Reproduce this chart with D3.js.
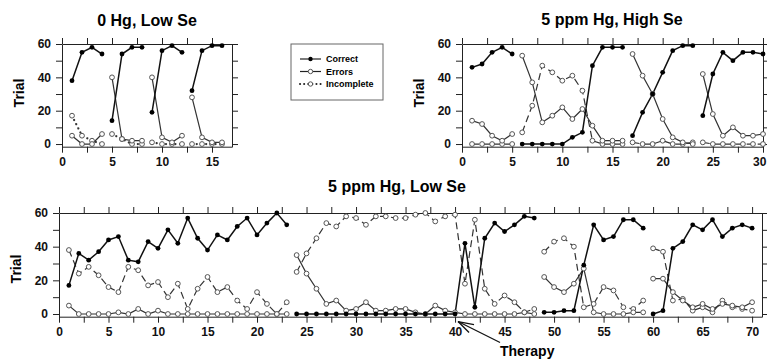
<!DOCTYPE html>
<html>
<head>
<meta charset="utf-8">
<script src="https://cdn.jsdelivr.net/npm/d3@7"></script>
<style>
  body { margin: 0; background: #fff; }
  svg { display: block; font-family: Arial, "Liberation Sans", Helvetica, sans-serif; }
  .tick text { font-weight: bold; font-size: 12px; fill: #111; }
  .axis path, .axis line { stroke: #222; }
</style>
</head>
<body>
<svg id="chart" width="767" height="362"></svg>
<script>
// session where each run of points starts
const tlStart = [1, 5, 9, 13]
const tlCorrect = [[38, 55, 58, 54], [14, 54, 58, 58], [19, 56, 59, 55], [32, 56, 59, 59]]
const tlErrors = [[5, 0, 0, 6], [40, 3, 2, 2], [40, 4, 1, 5], [28, 4, 1, 1]]
const tlIncomplete = [[17, 5, 2, 0], [6, 3, 0, 0], [1, 0, 0, 0], [0, 0, 0, 0]]

const trStart = [1, 6, 17, 24]
const trCorrect = [[46, 48, 55, 58, 54], [0, 0, 0, 0, 0, 4, 7, 47, 58, 58, 58], [5, 19, 30, 43, 56, 59, 59], [17, 42, 55, 50, 55, 55, 54]]
const trErrors = [[14, 12, 5, 2, 6], [53, 37, 13, 17, 22, 15, 21, 11, 2, 2, 2], [54, 41, 30, 15, 4, 1, 0], [42, 18, 5, 10, 5, 5, 6]]
const trIncomplete = [[0, 0, 0, 0, 0], [7, 23, 47, 43, 38, 41, 32, 2, 0, 0, 0], [1, 0, 0, 2, 0, 0, 1], [1, 0, 0, 0, 0, 0, 0]]

const btStart = [1, 24, 49, 60]
const btCorrect = [
  [17, 36, 32, 37, 44, 46, 32, 31, 43, 39, 50, 42, 57, 45, 38, 47, 44, 52, 57, 47, 54, 60, 53],
  [0, 0, 0, 0, 0, 0, 0, 0, 0, 0, 0, 0, 0, 0, 0, 0, 0, 42, 4, 45, 54, 49, 53, 58, 57],
  [1, 1, 2, 2, 29, 53, 44, 46, 56, 56, 51],
  [0, 2, 39, 43, 53, 50, 56, 46, 51, 53, 51]
]
const btErrors = [
  [5, 0, 0, 0, 0, 1, 0, 3, 0, 2, 0, 0, 0, 0, 0, 0, 0, 0, 0, 0, 0, 0, 0],
  [35, 24, 15, 6, 8, 2, 3, 7, 2, 2, 3, 3, 1, 0, 5, 2, 1, 0, 0, 0, 0, 0, 0, 1, 0],
  [22, 16, 13, 18, 27, 1, 0, 0, 0, 1, 1],
  [21, 21, 13, 8, 4, 6, 3, 6, 5, 4, 7]
]
const btIncomplete = [
  [38, 24, 28, 23, 16, 13, 28, 26, 17, 19, 10, 18, 3, 15, 22, 13, 16, 8, 3, 13, 6, 0, 7],
  [25, 36, 45, 54, 52, 58, 57, 53, 58, 58, 57, 57, 59, 60, 55, 58, 59, 18, 56, 15, 6, 11, 7, 1, 3],
  [37, 43, 45, 40, 4, 6, 16, 14, 4, 3, 8],
  [39, 37, 8, 9, 2, 4, 1, 8, 4, 3, 2]
]

const yTicks = [0, 10, 20, 30, 40, 50, 60]
const yLabels = [0, 20, 40, 60]
const tlXLabels = [0, 5, 10, 15]
const trXLabels = [0, 5, 10, 15, 20, 25, 30]
const btXLabels = [0, 5, 10, 15, 20, 25, 30, 35, 40, 45, 50, 55, 60, 65, 70]
const seriesNames = ["Correct", "Errors", "Incomplete"]

const W = 767
const svg = d3.select("#chart")

function drawPanel(p) {
  const x = d3.scaleLinear().domain([0, p.xMax]).range([p.left, p.right])
  const y = d3.scaleLinear().domain([-1.6, 60]).range([p.bottom, p.top])
  const g = svg.append("g")
  const xMinor = d3.range(0, p.xMax + 0.01, 2.5)

  // frame: four axes, labels only left and bottom
  const xb = g.append("g").attr("class", "axis")
    .attr("transform", `translate(0,${p.bottom})`)
    .call(d3.axisBottom(x).tickValues(xMinor).tickSize(6).tickSizeOuter(0).tickPadding(5)
      .tickFormat(d => p.xLabels.includes(d) ? d : ""))
  // keep a label at the right edge inside the page
  xb.selectAll(".tick text").each(function (d) {
    const over = x(d) + this.getBBox().width / 2 - (W - 1)
    if (over > 0) d3.select(this).attr("dx", -over)
  })
  g.append("g").attr("class", "axis")
    .attr("transform", `translate(0,${p.top})`)
    .call(d3.axisTop(x).tickValues(xMinor).tickSize(6).tickSizeOuter(0).tickFormat(""))
  g.append("g").attr("class", "axis")
    .attr("transform", `translate(${p.left},0)`)
    .call(d3.axisLeft(y).tickValues(yTicks).tickSize(6).tickSizeOuter(0).tickPadding(5)
      .tickFormat(d => yLabels.includes(d) ? d : ""))
  g.append("g").attr("class", "axis")
    .attr("transform", `translate(${p.right},0)`)
    .call(d3.axisRight(y).tickValues(yTicks).tickSize(6).tickSizeOuter(0).tickFormat(""))

  g.append("text")
    .attr("x", p.titleX).attr("y", p.titleY)
    .attr("text-anchor", "middle")
    .style("font-size", "16px").style("font-weight", "bold")
    .text(p.title)

  g.append("text")
    .attr("transform", `translate(${p.left - 43},${p.labelY}) rotate(-90)`)
    .attr("text-anchor", "middle").attr("dominant-baseline", "central")
    .style("font-size", "14px").style("font-weight", "bold")
    .text("Trial")

  const line = d3.line().x(d => x(d.t)).y(d => y(d.v))
  const runs = vals => vals.map((r, i) => r.map((v, j) => ({ t: p.start[i] + j, v })))

  const inc = runs(p.incomplete), err = runs(p.errors), cor = runs(p.correct)

  inc.forEach(r => g.append("path").datum(r).attr("d", line)
    .attr("fill", "none").attr("stroke", "#333")
    .attr("stroke-width", p.dotted ? 2.2 : 1.2)
    .attr("stroke-linecap", p.dotted ? "round" : "butt")
    .attr("stroke-dasharray", p.dotted ? "0.1,4.6" : "7,4"))
  err.forEach(r => g.append("path").datum(r).attr("d", line)
    .attr("fill", "none").attr("stroke", "#333").attr("stroke-width", 1.2))
  cor.forEach(r => g.append("path").datum(r).attr("d", line)
    .attr("fill", "none").attr("stroke", "#111").attr("stroke-width", 1.5))

  g.selectAll(".open").data(inc.flat().concat(err.flat())).enter()
    .append("circle").attr("class", "open")
    .attr("cx", d => x(d.t)).attr("cy", d => y(d.v)).attr("r", 2.4)
    .attr("fill", "#fff").attr("stroke", "#555").attr("stroke-width", 1)
  g.selectAll(".dot").data(cor.flat()).enter()
    .append("circle").attr("class", "dot")
    .attr("cx", d => x(d.t)).attr("cy", d => y(d.v)).attr("r", 2.4)
    .attr("fill", "#000")

  return { x, y }
}

drawPanel({
  title: "0 Hg, Low Se", titleX: 147, titleY: 26,
  left: 62, right: 232, top: 44, bottom: 146.7, labelY: 93, xMax: 17,
  xLabels: tlXLabels, start: tlStart, correct: tlCorrect, errors: tlErrors,
  incomplete: tlIncomplete, dotted: true
})
drawPanel({
  title: "5 ppm Hg, High Se", titleX: 612, titleY: 25,
  left: 462, right: 763, top: 44, bottom: 146.7, labelY: 93, xMax: 30,
  xLabels: trXLabels, start: trStart, correct: trCorrect, errors: trErrors,
  incomplete: trIncomplete, dotted: false
})
const bt = drawPanel({
  title: "5 ppm Hg, Low Se", titleX: 397, titleY: 192,
  left: 59, right: 762, top: 213, bottom: 316.7, labelY: 269, xMax: 71,
  xLabels: btXLabels, start: btStart, correct: btCorrect, errors: btErrors,
  incomplete: btIncomplete, dotted: false
})

// Therapy annotation
const tipX = bt.x(40.3), tipY = bt.y(-1.5) + 5
const ann = svg.append("g").attr("stroke", "#111").attr("stroke-width", 1.3).attr("fill", "none")
ann.append("line").attr("x1", tipX).attr("y1", tipY).attr("x2", tipX + 42).attr("y2", tipY + 21)
ann.append("line").attr("x1", tipX).attr("y1", tipY).attr("x2", tipX + 16).attr("y2", tipY + 3)
ann.append("line").attr("x1", tipX).attr("y1", tipY).attr("x2", tipX + 11).attr("y2", tipY + 11)
svg.append("text").attr("x", 500).attr("y", 356)
  .style("font-size", "14px").style("font-weight", "bold").text("Therapy")

// legend
const lg = svg.append("g").attr("transform", "translate(291,44)")
lg.append("rect").attr("width", 92).attr("height", 56)
  .attr("fill", "#fff").attr("stroke", "#666").attr("stroke-width", 1)
seriesNames.forEach((name, i) => {
  const yy = 15 + i * 12.5
  lg.append("line").attr("x1", 9).attr("x2", 30).attr("y1", yy).attr("y2", yy)
    .attr("stroke", "#222")
    .attr("stroke-width", i === 2 ? 2 : 1.2)
    .attr("stroke-linecap", i === 2 ? "round" : "butt")
    .attr("stroke-dasharray", i === 2 ? "0.1,4" : null)
  lg.append("circle").attr("cx", 19.5).attr("cy", yy).attr("r", 2.2)
    .attr("fill", i === 0 ? "#000" : "#fff").attr("stroke", i === 0 ? "none" : "#555")
  lg.append("text").attr("x", 35).attr("y", yy).attr("dominant-baseline", "central")
    .style("font-size", "9px").style("font-weight", "bold").text(name)
})
</script>
</body>
</html>
